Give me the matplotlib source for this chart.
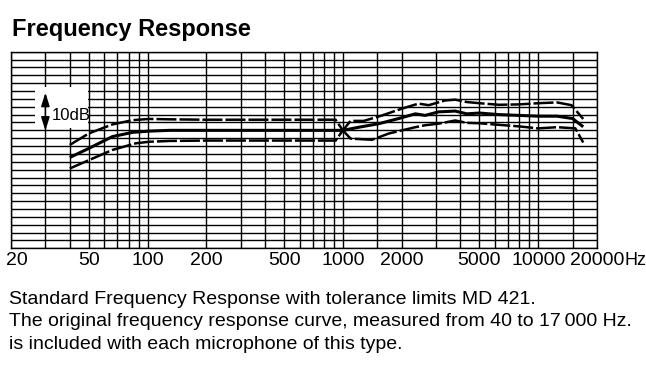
import numpy as np
import matplotlib
matplotlib.use('Agg')
import matplotlib.pyplot as plt
import matplotlib.transforms as mtrans
from matplotlib.patches import Rectangle

plt.rcParams['font.family'] = ['Liberation Sans', 'DejaVu Sans']

# 데이터 (그림에서 읽은 값, dB는 1000 Hz 기준)
upper_f = [40, 50, 66, 84, 102, 130, 200, 500, 918, 1000, 1095, 1280, 1590, 2000,
           2440, 2750, 3340, 3760, 4310, 5000, 6300, 8000, 10000, 12500, 14800, 17000]
upper_db = [-3.7, -0.8, 1.5, 2.6, 2.9, 2.8, 2.7, 2.7, 2.7, 0, 2.4, 2.4, 3.8, 5.5,
            6.8, 6.4, 7.6, 7.8, 7.2, 6.9, 6.5, 6.6, 6.9, 7.1, 6.4, 2.9]

middle_f = [40, 50, 66, 84, 102, 130, 200, 500, 1000, 1210, 1530, 1930, 2350, 2640,
            3090, 3760, 4310, 5000, 6300, 8000, 10000, 12500, 15000, 17000]
middle_db = [-6.9, -4.6, -1.6, -0.5, -0.2, 0, 0, 0, 0, 0.8, 1.7, 3.0, 4.2, 3.8,
             4.7, 4.9, 4.2, 4.4, 4.0, 3.8, 3.6, 3.6, 3.0, 0.9]

lower_f = [40, 50, 66, 87, 102, 130, 200, 500, 918, 1000, 1095, 1410, 1720, 2350,
           2640, 3090, 3760, 4310, 5000, 6300, 8000, 10000, 12500, 15500, 17000]
lower_db = [-9.7, -7.6, -5.0, -3.3, -2.9, -2.7, -2.6, -2.6, -2.6, 0, -2.1, -2.4, -0.8, 0.8,
            1.3, 1.7, 2.5, 1.9, 1.8, 1.4, 1.0, 0.5, 0.8, 0.5, -3.1]

# 격자선 위치
grid_freqs = ([20, 30, 40, 50, 60, 70, 80, 90, 100] + list(range(200, 1001, 100))
              + [1500, 2000] + list(range(3000, 10001, 1000)) + [15000, 20000])
tick_freqs = [20, 50, 100, 200, 500, 1000, 2000, 5000, 10000, 20000]
tick_labels = ['20', '50', '100', '200', '500', '1000', '2000', '5000', '10000', '20000']

W, H = 646, 365
fig = plt.figure(figsize=(W / 100, H / 100), dpi=100)
ax = fig.add_axes([11 / W, 1 - 248.3 / H, (597 - 11) / W, (248.3 - 51.7) / H])

ax.set_xscale('log')
ax.set_xlim(20, 20000)
ax.set_ylim(-30, 20)

# 격자
for f in grid_freqs:
    ax.axvline(f, color='black', lw=1.0, zorder=1)
for d in range(-30, 21, 2):
    ax.axhline(d, color='black', lw=1.0, zorder=1)

# 10dB 표시 상자
ax.add_patch(Rectangle((26.5, 0.6), 49.4 - 26.5, 11.0 - 0.6, facecolor='white',
                       edgecolor='none', zorder=2))
ax.annotate('', xy=(30, 9.6), xytext=(30, -0.1),
            arrowprops=dict(arrowstyle='<|-|>,head_length=0.8,head_width=0.25',
                            color='black', lw=1.2, shrinkA=0, shrinkB=0), zorder=3)
ax.text(32.3, 3.8, '10dB', fontsize=12, va='center', ha='left', zorder=3)

# 곡선
ax.plot(middle_f, middle_db, color='black', lw=2.2, zorder=4, solid_capstyle='butt')
ax.plot(upper_f, upper_db, color='black', lw=1.8, dashes=(8, 1.2), zorder=4)
ax.plot(lower_f, lower_db, color='black', lw=1.8, dashes=(8, 1.2), zorder=4)

# 축 설정
ax.set_yticks([])
ax.set_xticks(tick_freqs)
ax.set_xticklabels(tick_labels, fontsize=14)
ax.xaxis.set_minor_locator(matplotlib.ticker.NullLocator())
ax.tick_params(axis='x', length=0, pad=3)
first = ax.get_xticklabels()[0]
first.set_transform(first.get_transform() + mtrans.ScaledTranslation(0.055, 0, fig.dpi_scale_trans))
for s in ax.spines.values():
    s.set_linewidth(1.0)
ax.annotate('Hz', xy=(1, 0), xycoords='axes fraction', xytext=(19.5, -9),
            textcoords='offset points', fontsize=13, ha='left', va='center')

# 제목과 설명
fig.text(12 / W, 1 - 36 / H, 'Frequency Response', fontsize=17, fontweight='bold',
         ha='left', va='baseline')
captions = ['Standard Frequency Response with tolerance limits MD 421.',
            'The original frequency response curve, measured from 40 to 17\u2009000 Hz.',
            'is included with each microphone of this type.']
for i, line in enumerate(captions):
    fig.text(9 / W, 1 - (304 + 22.5 * i) / H, line, fontsize=14, ha='left', va='baseline')

fig.savefig('out.png', dpi=100)
